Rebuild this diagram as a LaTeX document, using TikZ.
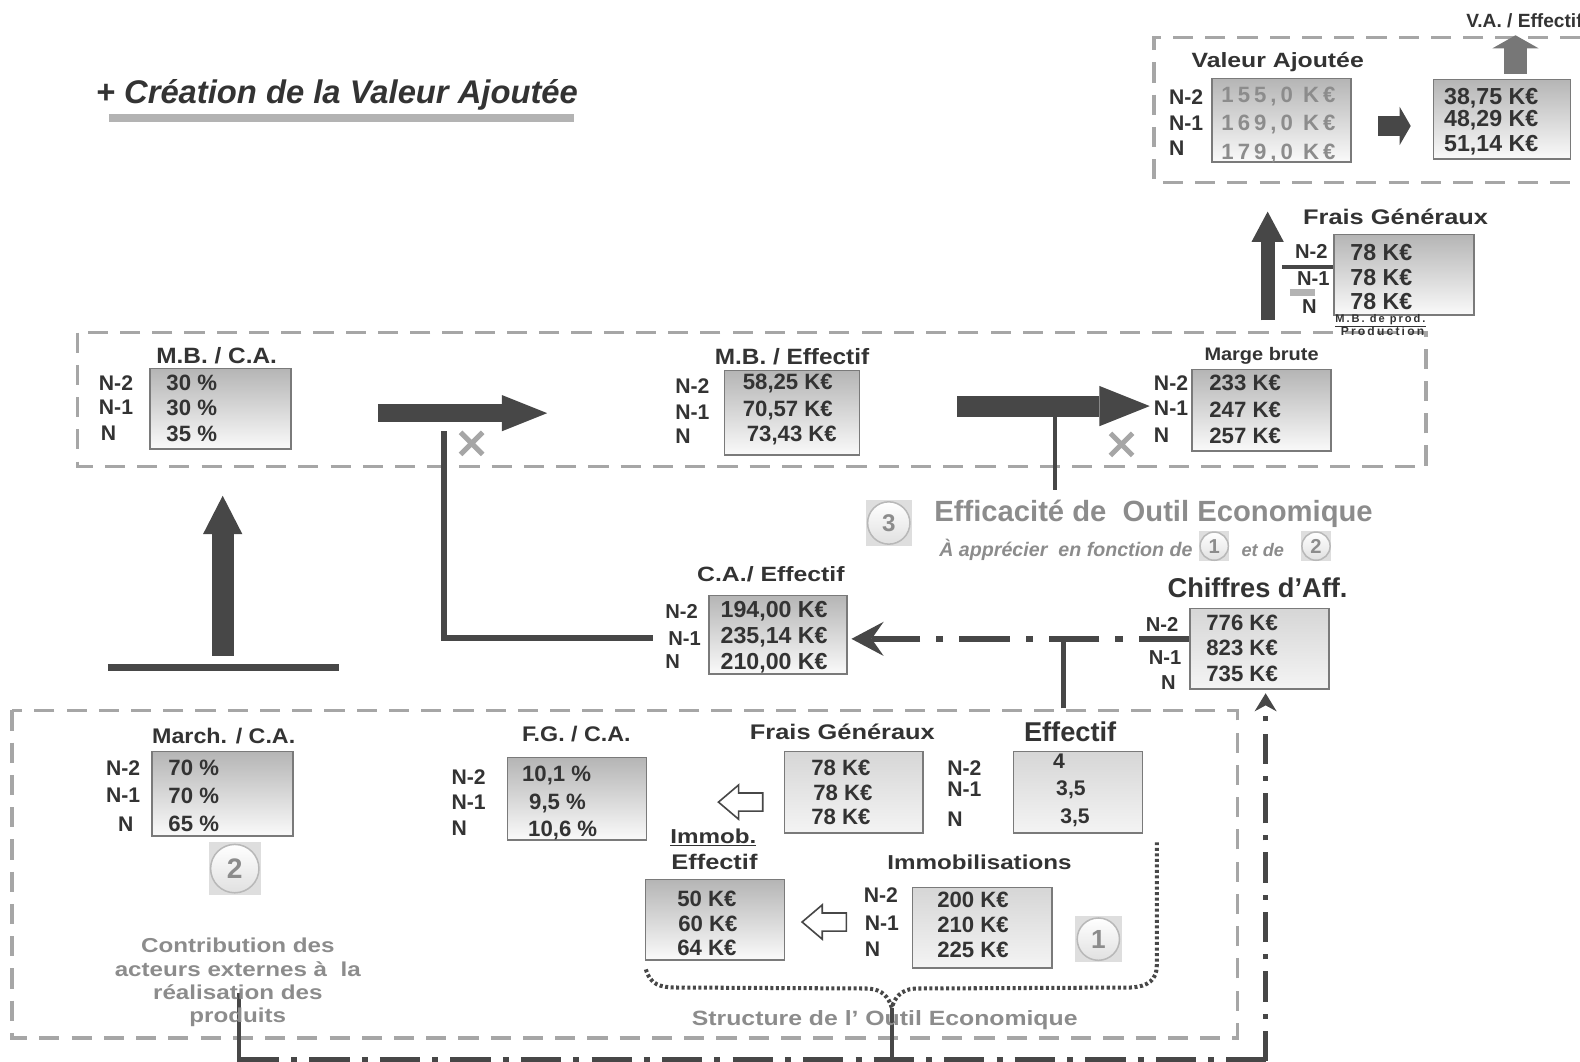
\documentclass[tikz,border=0pt]{standalone}
\usepackage{fontspec}
\setmainfont{Liberation Sans}
\newfontfamily\widefont[LetterSpace=18]{Liberation Sans}
\newfontfamily\broadface[FakeStretch=1.2]{Liberation Sans}
\newfontfamily\halfbroadface[FakeStretch=1.1]{Liberation Sans}
\usetikzlibrary{arrows.meta}

\definecolor{ink}{HTML}{333333}
\definecolor{darkline}{HTML}{474747}
\definecolor{zonegray}{HTML}{A6A6A6}
\definecolor{softtext}{HTML}{8C8C8C}
\definecolor{boxline}{HTML}{7A7A7A}
\definecolor{shadetop}{HTML}{B5B5B5}
\definecolor{shadebot}{HTML}{FAFAFA}
\definecolor{flattop}{HTML}{D6D6D6}
\definecolor{flatbot}{HTML}{F4F4F4}
\definecolor{barcol}{HTML}{B3B3B3}
\definecolor{badgebg}{HTML}{DEDEDE}
\definecolor{badgeline}{HTML}{B8B8B8}
\definecolor{midarrow}{HTML}{777777}

\newcommand\fsz[1]{\fontsize{#1}{#1}\selectfont}

\tikzset{
  txt/.style={inner sep=0pt, text depth=0pt, text height={0.716*#1pt}, text=ink, font=\bfseries\fsz{#1}},
  lbl/.style={txt=#1, anchor=west},
  head/.style={txt=#1, font=\halfbroadface\bfseries\fsz{#1}},
  airyhead/.style={txt=#1, font=\broadface\bfseries\fsz{#1}},
  valbox/.style={draw=boxline, line width=1.5pt, top color=shadetop, bottom color=shadebot, inner sep=0pt, anchor=north west},
  flatbox/.style={valbox, top color=flattop, bottom color=flatbot},
  zone/.style={draw=zonegray, line width=3.5pt, dash pattern=on 20pt off 12pt},
  dashdot/.style={draw=darkline, dash pattern=on 50pt off 16pt on 7pt off 16pt},
  openarrow/.style={draw=darkline, line width=1.6pt, fill=white, line join=miter},
  xmark/.style={draw=zonegray, line width=5pt},
  badge/.style={circle, draw=badgeline, line width=1.5pt, top color=white, bottom color=black!12, inner sep=0pt, text=softtext, font=\bfseries\fsz{#1}},
  badgesq/.style={fill=badgebg, inner sep=0pt},
  bigarrow/.style={draw=darkline, line width=#1},
}

\begin{document}
\begin{tikzpicture}[x=1pt, y=-1pt]
\useasboundingbox (0,0) rectangle (1568,1053);

% ---------- title ----------
\node[txt=32, anchor=west, font=\bfseries\itshape\fsz{32.5}] (title) at (95,91) {+ Création de la Valeur Ajoutée};
\draw[barcol, line width=8pt] (108,117) -- (570,117);

% ---------- dashed zones ----------
\draw[zone] (1600,37) -- (1145,37) -- (1145,181) -- (1600,181);
\draw[zone] (77,330) rectangle (1415,463);
\draw[zone] (12,705) rectangle (1228,1030);

% ---------- valeur ajoutee ----------
\node[airyhead=20.5] (vatitle) at (1268,60) {Valeur Ajoutée};
\node[valbox, minimum width=138pt, minimum height=83pt] (va) at (1202,77) {};
\node[lbl=21] (va-n2) at (1160,96) {N-2};
\node[lbl=21] (va-n1) at (1160,122) {N-1};
\node[lbl=21] (va-n0) at (1160,147) {N};
\node[lbl=22, text=softtext, font=\widefont\bfseries\fsz{22}] (va-v1) at (1212,94) {155,0 K€};
\node[lbl=22, text=softtext, font=\widefont\bfseries\fsz{22}] (va-v2) at (1212,122) {169,0 K€};
\node[lbl=22, text=softtext, font=\widefont\bfseries\fsz{22}] (va-v3) at (1212,150) {179,0 K€};

\coordinate (vaarr-s) at (1368,125);
\coordinate (vaarr-e) at (1400,125);
\draw[bigarrow=20pt, -{Triangle[length=11pt,width=38pt,line width=0pt]}] (vaarr-s) -- (vaarr-e);

\node[valbox, minimum width=136pt, minimum height=79pt] (vaeff) at (1422,78) {};
\node[lbl=23] (vaeff-v1) at (1433,95) {38,75 K€};
\node[lbl=23] (vaeff-v2) at (1433,117) {48,29 K€};
\node[lbl=23] (vaeff-v3) at (1433,142) {51,14 K€};
\coordinate (vaup-s) at (1504,73);
\coordinate (vaup-e) at (1504,35);
\draw[draw=midarrow, line width=22pt, -{Triangle[length=13pt,width=46pt,line width=0pt]}] (vaup-s) -- (vaup-e);
\node[txt=19, anchor=west] (vaefftitle) at (1455,20) {V.A. / Effectif};

% ---------- frais generaux (haut) ----------
\node[airyhead=21] (fgtitle) at (1385,215) {Frais Généraux};
\node[valbox, minimum width=139pt, minimum height=80pt] (fgtop) at (1323,232) {};
\node[lbl=23] (fgtop-v1) at (1340,250) {78 K€};
\node[lbl=23] (fgtop-v2) at (1340,275) {78 K€};
\node[lbl=23] (fgtop-v3) at (1340,299) {78 K€};
\node[lbl=20] (fgtop-n2) at (1285,249) {N-2};
\node[lbl=20] (fgtop-n1) at (1287,276) {N-1};
\node[lbl=20] (fgtop-n0) at (1292,304) {N};
\draw[darkline, line width=4pt] (1272,265) -- (1323,265);
\draw[barcol, line width=7pt] (1280,290) -- (1305,290);
\coordinate (fgup-s) at (1258,318);
\coordinate (fgup-e) at (1258,210);
\draw[bigarrow=14pt, -{Triangle[length=30pt,width=32pt,line width=0pt]}] (fgup-s) -- (fgup-e);
\node[txt=11, font=\widefont\bfseries\fsz{11}] (mbprod) at (1370,316) {\underline{M.B. de prod.}};
\node[txt=12, font=\widefont\bfseries\fsz{12}] (prodlbl) at (1372,329) {Production};

% ---------- M.B. / C.A. ----------
\node[head=22] (mbcatitle) at (215,353) {M.B. / C.A.};
\node[valbox, minimum width=140pt, minimum height=80pt] (mbca) at (148,365) {};
\node[lbl=21] (mbca-n2) at (98,380) {N-2};
\node[lbl=21] (mbca-n1) at (98,404) {N-1};
\node[lbl=21] (mbca-n0) at (100,430) {N};
\node[lbl=22] (mbca-v1) at (165,380) {30 \%};
\node[lbl=22] (mbca-v2) at (165,404) {30 \%};
\node[lbl=22] (mbca-v3) at (165,430) {35 \%};

\coordinate (a1-s) at (375,410);
\coordinate (a1-e) at (543,410);
\draw[bigarrow=18pt, -{Triangle[length=45pt,width=36pt,line width=0pt]}] (a1-s) -- (a1-e);
\draw[xmark] (457,429) -- (479,451) (457,451) -- (479,429);
\coordinate (lk-top) at (441,428);
\coordinate (lk-end) at (648,633);
\draw[darkline, line width=6pt] (lk-top) |- (lk-end);

% ---------- M.B. / Effectif ----------
\node[head=22] (mbefftitle) at (786,354) {M.B. / Effectif};
\node[valbox, minimum width=134pt, minimum height=84pt] (mbeff) at (718,367) {};
\node[lbl=21] (mbeff-n2) at (670,383) {N-2};
\node[lbl=21] (mbeff-n1) at (670,409) {N-1};
\node[lbl=21] (mbeff-n0) at (670,433) {N};
\node[lbl=22] (mbeff-v1) at (737,379) {58,25 K€};
\node[lbl=22] (mbeff-v2) at (737,405) {70,57 K€};
\node[lbl=22] (mbeff-v3) at (741,430) {73,43 K€};

\coordinate (a2-s) at (950,403);
\coordinate (a2-e) at (1141,403);
\draw[bigarrow=21pt, -{Triangle[length=50pt,width=40pt,line width=0pt]}] (a2-s) -- (a2-e);
\coordinate (eff-tap) at (1047,413);
\coordinate (eff-foot) at (1047,486);
\draw[darkline, line width=4pt] (eff-tap) -- (eff-foot);
\draw[xmark] (1102,430) -- (1124,452) (1102,452) -- (1124,430);

% ---------- marge brute ----------
\node[head=18] (mbtitle) at (1252,351) {Marge brute};
\node[valbox, minimum width=138pt, minimum height=81pt] (mb) at (1182,366) {};
\node[lbl=21] (mb-n2) at (1145,380) {N-2};
\node[lbl=21] (mb-n1) at (1145,405) {N-1};
\node[lbl=21] (mb-n0) at (1145,432) {N};
\node[lbl=22] (mb-v1) at (1200,380) {233 K€};
\node[lbl=22] (mb-v2) at (1200,406) {247 K€};
\node[lbl=22] (mb-v3) at (1200,432) {257 K€};

% ---------- efficacite ----------
\node[badgesq, minimum size=46pt] (b3sq) at (882,519) {};
\node[badge=24, minimum size=42pt] (b3) at (882,519) {3};
\node[txt=29, anchor=west, text=softtext] (effic) at (927,507) {Efficacité de\ \ Outil Economique};
\node[txt=20, anchor=west, text=softtext, font=\bfseries\itshape\fsz{19.5}] (apprec) at (932,545) {À apprécier\ \ en fonction de};
\node[badgesq, minimum size=30pt] (b1ssq) at (1205,542) {};
\node[badge=20, minimum size=28pt] (b1s) at (1205,542) {1};
\node[txt=18, anchor=west, text=softtext, font=\bfseries\itshape\fsz{18}] (etde) at (1232,546) {et de};
\node[badgesq, minimum size=30pt] (b2ssq) at (1306,542) {};
\node[badge=20, minimum size=28pt] (b2s) at (1306,542) {2};

% ---------- C.A. / Effectif ----------
\node[airyhead=20.5] (caefftitle) at (765,570) {C.A./ Effectif};
\node[valbox, minimum width=137pt, minimum height=78pt] (caeff) at (703,590) {};
\node[lbl=20] (caeff-n2) at (660,607) {N-2};
\node[lbl=20] (caeff-n1) at (663,633) {N-1};
\node[lbl=20] (caeff-n0) at (660,656) {N};
\node[lbl=23] (caeff-v1) at (715,605) {194,00 K€};
\node[lbl=23] (caeff-v2) at (715,630) {235,14 K€};
\node[lbl=23] (caeff-v3) at (715,656) {210,00 K€};

% ---------- chiffres d'affaires ----------
\node[txt=27] (catitle) at (1248,583) {Chiffres d’Aff.};
\node[flatbox, minimum width=138pt, minimum height=80pt] (ca) at (1180,603) {};
\node[lbl=20] (ca-n2) at (1137,620) {N-2};
\node[lbl=20] (ca-n1) at (1140,652) {N-1};
\node[lbl=20] (ca-n0) at (1152,677) {N};
\node[lbl=22] (ca-v1) at (1197,618) {776 K€};
\node[lbl=22] (ca-v2) at (1197,643) {823 K€};
\node[lbl=22] (ca-v3) at (1197,668) {735 K€};

\coordinate (ca-out) at (1180,634);
\coordinate (ca-tip) at (845,634);
\draw[dashdot, line width=6pt, -{Stealth[length=32pt,width=34pt,inset=12pt,line width=0pt]}] (ca-out) -- (ca-tip);
\coordinate (effbox-up) at (1055,703);
\coordinate (effbox-join) at (1055,634);
\draw[darkline, line width=5pt] (effbox-up) -- (effbox-join);

\coordinate (rv-foot) at (1256,1053);
\coordinate (rv-tip) at (1256,688);
\draw[darkline, line width=5pt, dash pattern=on 30pt off 12pt on 5pt off 12pt, -{Stealth[length=18pt,width=22pt,inset=6pt,line width=0pt]}] (rv-foot) -- (rv-tip);
\coordinate (bl-left) at (237,1054);
\coordinate (bl-right) at (1256,1054);
\draw[darkline, line width=10pt, dash pattern=on 40pt off 12pt on 6pt off 12pt] (bl-left) -- (bl-right);
\draw[darkline, line width=4pt] (237,985) -- (bl-left);
\draw[darkline, line width=4pt] (885,1000) -- (885,1054);

% ---------- left riser ----------
\coordinate (lr-s) at (221,651);
\coordinate (lr-e) at (221,492);
\draw[bigarrow=22pt, -{Triangle[length=38pt,width=39pt,line width=0pt]}] (lr-s) -- (lr-e);
\draw[darkline, line width=7pt] (107,662) -- (336,662);

% ---------- March. / C.A. ----------
\node[head=21] (mctitle) at (222,730) {March. / C.A.};
\node[valbox, minimum width=140pt, minimum height=84pt] (mc) at (150,745) {};
\node[lbl=21] (mc-n2) at (105,762) {N-2};
\node[lbl=21] (mc-n1) at (105,789) {N-1};
\node[lbl=21] (mc-n0) at (117,818) {N};
\node[lbl=22] (mc-v1) at (167,762) {70 \%};
\node[lbl=22] (mc-v2) at (167,790) {70 \%};
\node[lbl=22] (mc-v3) at (167,817) {65 \%};
\node[badgesq, minimum size=52pt] (b2sq) at (233,862) {};
\node[badge=28, minimum size=48pt] (b2) at (233,862) {2};
\node[text=softtext, font=\broadface\bfseries\fontsize{20}{23}\selectfont, align=center, inner sep=0pt] (contrib) at (236,975) {Contribution des\\acteurs externes à\ \ la\\réalisation des\\produits};

% ---------- F.G. / C.A. ----------
\node[head=21] (fgcatitle) at (572,728) {F.G. / C.A.};
\node[valbox, minimum width=138pt, minimum height=82pt] (fgca) at (503,751) {};
\node[lbl=21] (fgca-n2) at (448,771) {N-2};
\node[lbl=21] (fgca-n1) at (448,796) {N-1};
\node[lbl=21] (fgca-n0) at (448,822) {N};
\node[lbl=22] (fgca-v1) at (518,768) {10,1 \%};
\node[lbl=22] (fgca-v2) at (525,795) {9,5 \%};
\node[lbl=22] (fgca-v3) at (524,822) {10,6 \%};
\draw[openarrow] (757,787) -- (733,787) -- (733,779) -- (713,796) -- (733,813) -- (733,805) -- (757,805) -- cycle;

% ---------- frais generaux (bas) ----------
\node[airyhead=21] (fgbtitle) at (836,726) {Frais Généraux};
\node[flatbox, minimum width=137pt, minimum height=81pt] (fgb) at (778,745) {};
\node[lbl=22] (fgb-v1) at (805,762) {78 K€};
\node[lbl=22] (fgb-v2) at (807,787) {78 K€};
\node[lbl=22] (fgb-v3) at (805,810) {78 K€};

% ---------- effectif ----------
\node[txt=27] (efftitle) at (1062,726) {Effectif};
\node[lbl=21] (eff-n2) at (940,762) {N-2};
\node[lbl=21] (eff-n1) at (940,783) {N-1};
\node[lbl=21] (eff-n0) at (940,813) {N};
\node[flatbox, minimum width=128pt, minimum height=81pt] (eff) at (1005,745) {};
\node[lbl=21] (eff-v1) at (1045,755) {4};
\node[lbl=21] (eff-v2) at (1048,782) {3,5};
\node[lbl=21] (eff-v3) at (1052,810) {3,5};

% ---------- immob. / effectif ----------
\node[airyhead=20] (immobu) at (708,830) {\underline{Immob.}};
\node[airyhead=21] (immobeff) at (709,855) {Effectif};
\node[valbox, minimum width=138pt, minimum height=80pt] (ie) at (640,872) {};
\node[lbl=22] (ie-v1) at (672,892) {50 K€};
\node[lbl=22] (ie-v2) at (673,917) {60 K€};
\node[lbl=22] (ie-v3) at (672,940) {64 K€};
\draw[openarrow] (840,906) -- (816,906) -- (816,898) -- (796,915) -- (816,932) -- (816,924) -- (840,924) -- cycle;

% ---------- immobilisations ----------
\node[airyhead=20] (imtitle) at (972,856) {Immobilisations};
\node[lbl=21] (im-n2) at (857,888) {N-2};
\node[lbl=21] (im-n1) at (858,916) {N-1};
\node[lbl=21] (im-n0) at (858,942) {N};
\node[flatbox, minimum width=138pt, minimum height=80pt] (im) at (905,880) {};
\node[lbl=22] (im-v1) at (930,893) {200 K€};
\node[lbl=22] (im-v2) at (930,918) {210 K€};
\node[lbl=22] (im-v3) at (930,942) {225 K€};
\node[badgesq, minimum size=46pt] (b1sq) at (1090,932) {};
\node[badge=26, minimum size=42pt] (b1) at (1090,932) {1};

% ---------- structure brace ----------
\draw[darkline, line width=4pt, dash pattern=on 3pt off 2.5pt]
  (641,962) .. controls (645,977) and (655,980) .. (672,980) -- (862,981)
  .. controls (876,982) and (882,990) .. (885,1000)
  .. controls (888,990) and (894,982) .. (908,981) -- (1122,980)
  .. controls (1140,979) and (1148,972) .. (1148,958) -- (1148,836);
\node[txt=20.5, text=softtext, font=\broadface\bfseries\fsz{20.5}] (structure) at (878,1010) {Structure de l’ Outil Economique};

\end{tikzpicture}
\end{document}
